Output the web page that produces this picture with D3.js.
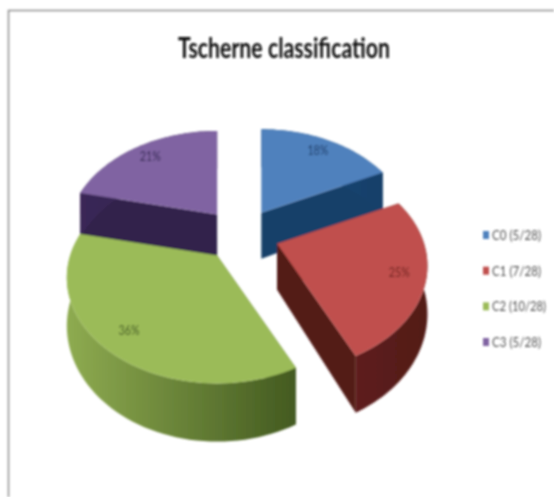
<!DOCTYPE html>
<html>
<head>
<meta charset="utf-8">
<script src="https://cdn.jsdelivr.net/npm/d3@7/dist/d3.min.js"></script>
<style>html,body{margin:0;padding:0;background:#fff}svg{display:block}</style>
</head>
<body>
<script>
const categories = ["C0 (5/28)", "C1 (7/28)", "C2 (10/28)", "C3 (5/28)"];
const values = [5, 7, 10, 6];
const pctLabels = ["18%", "25%", "36%", "21%"];
const topColors = ["#4f81bd", "#c0504d", "#9bbb59", "#8064a2"];
const sideLight = ["#1f4e7c", "#5e1f1c", "#8eab50", "#3a2757"];
const sideDark  = ["#173f69", "#521a18", "#435a20", "#33224c"];
const labelColors = ["#1c3a66", "#6a1f1c", "#3d5420", "#2f2350"];
const title = "Tscherne classification";

const W = 554, H = 497;
const svg = d3.select("body").append("svg").attr("width", W).attr("height", H);
const defs = svg.append("defs");
defs.append("filter").attr("id","soft").attr("x","-5%").attr("y","-5%").attr("width","110%").attr("height","110%")
  .append("feGaussianBlur").attr("stdDeviation",0.8);
const root = svg.append("g").attr("filter","url(#soft)");

root.append("path").attr("d",`M8.5,${H} V10.5 H${W}`).attr("fill","none").attr("stroke","#8c8c8c").attr("stroke-width",1.5);

root.append("text").attr("x",284).attr("y",58).attr("text-anchor","middle")
  .attr("font-family","Lato, 'Open Sans', sans-serif").attr("font-size",28).attr("font-weight",700)
  .attr("fill","#111").attr("textLength",212).attr("lengthAdjust","spacingAndGlyphs").text(title);

// perspective: each slice is drawn around its own exploded apex
const cx = 241, cy = 235, k = 0.21, explode = 0.26, depth = 46;
const sx = d3.scaleLinear().domain([-1,1]).range([-147,147]);
const sy = d3.scaleLinear().domain([-1,1]).range([-101,101]);
const line = d3.line();
const pie = d3.pie().sort(null)(values);

const drawOrder = [0,3,1,2];

function sliceFrame(p){
  const m = (p.startAngle+p.endAngle)/2;
  const ax = cx + sx(explode*Math.sin(m));
  const ay = cy + sy(-explode*Math.cos(m));
  return (r,a,h=0) => {
    const X = r*Math.sin(a), Y = -r*Math.cos(a), w = 1 - k*Y;
    return [ax + sx(X/w), ay + sy(Y/w) + h*depth/w];
  };
}

drawOrder.forEach(i => {
  const p = pie[i], f = sliceFrame(p);
  const angs = d3.range(0,61).map(t => p.startAngle + (p.endAngle-p.startAngle)*t/60);
  const g = root.append("g");
  [angs[0], angs[60]].forEach(a => {
    g.append("path").attr("d", line([f(0,a),f(1,a),f(1,a,1),f(0,a,1)])+"Z").attr("fill",sideDark[i]);
  });
  const top = angs.map(a => f(1,a));
  const bot = angs.map(a => f(1,a,1)).reverse();
  const xs = top.map(q => q[0]);
  const gid = "wall"+i;
  const lg = defs.append("linearGradient").attr("id",gid).attr("gradientUnits","userSpaceOnUse")
    .attr("x1",d3.min(xs)).attr("x2",d3.max(xs)).attr("y1",0).attr("y2",0);
  lg.append("stop").attr("offset",0).attr("stop-color",sideLight[i]);
  lg.append("stop").attr("offset",1).attr("stop-color",sideDark[i]);
  g.append("path").attr("d", line(top.concat(bot))+"Z").attr("fill",`url(#${gid})`);
  g.append("path").attr("d", line([f(0,0)].concat(top))+"Z").attr("fill",topColors[i]);
});

pie.forEach((p,i) => {
  const m = (p.startAngle+p.endAngle)/2;
  const pt = sliceFrame(p)(0.83,m);
  root.append("text").attr("x",pt[0]).attr("y",pt[1]+4).attr("text-anchor","middle")
    .attr("font-family","Lato, sans-serif").attr("font-size",13).attr("fill",labelColors[i])
    .attr("textLength",21).attr("lengthAdjust","spacingAndGlyphs").text(pctLabels[i]);
});

const ly = d3.scalePoint().domain(categories).range([235,342]);
categories.forEach((c,i) => {
  root.append("rect").attr("x",483).attr("y",ly(c)-4).attr("width",6).attr("height",8).attr("fill",topColors[i]);
  root.append("text").attr("x",492).attr("y",ly(c)+5).attr("font-family","Lato, sans-serif").attr("font-size",13)
    .attr("fill","#505050").attr("textLength",c.length>9?54:49).attr("lengthAdjust","spacingAndGlyphs").text(c);
});
</script>
</body>
</html>
